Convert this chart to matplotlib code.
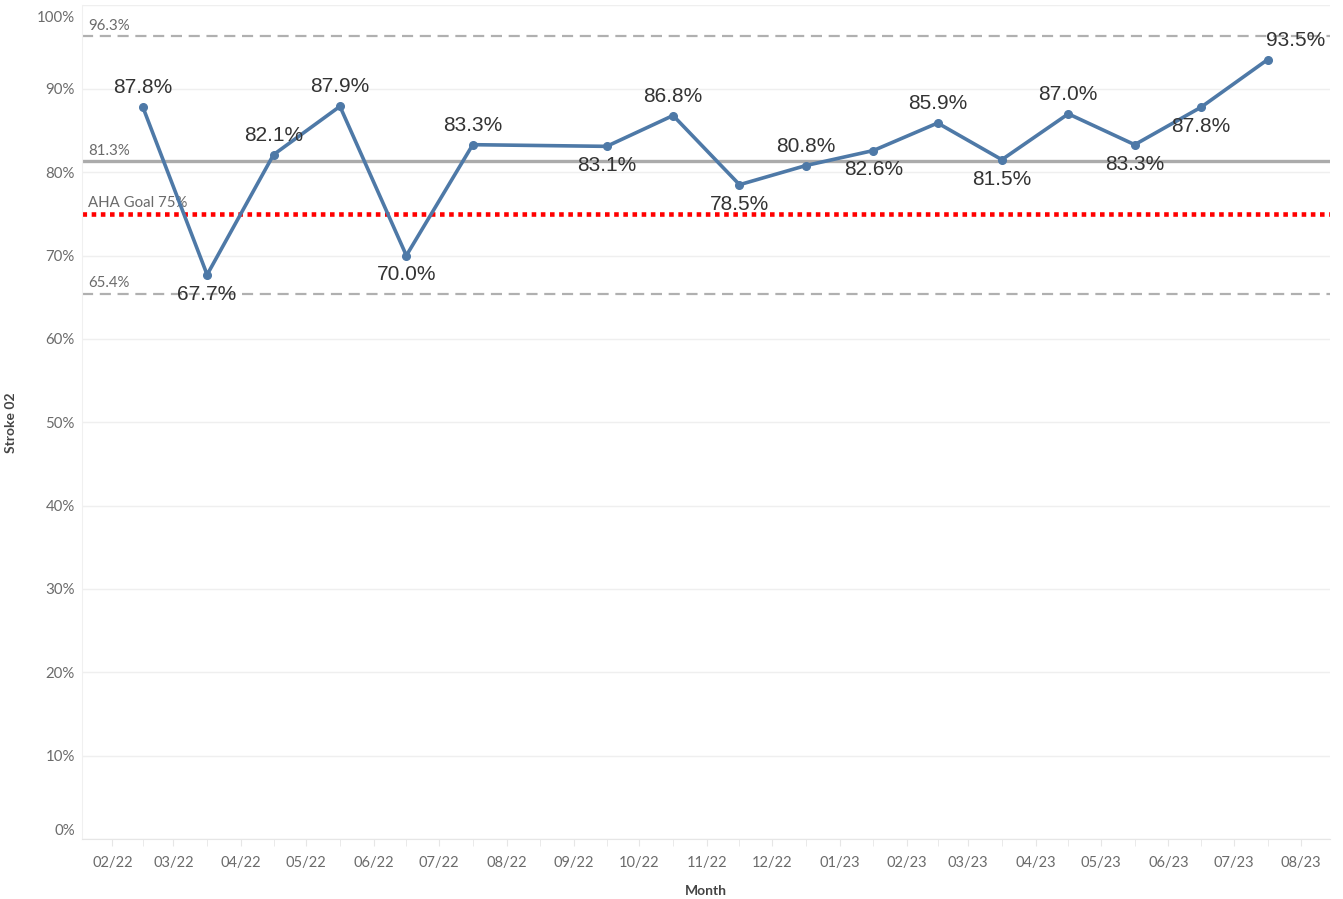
import matplotlib.pyplot as plt
import matplotlib.dates as mdates
import matplotlib.transforms as mtransforms
import pandas as pd

# monthly Stroke 02 rate (Aug 2022 missing)
months = ['2022-02', '2022-03', '2022-04', '2022-05', '2022-06', '2022-07',
          '2022-09', '2022-10', '2022-11', '2022-12', '2023-01', '2023-02',
          '2023-03', '2023-04', '2023-05', '2023-06', '2023-07']
rates = [87.8, 67.7, 82.1, 87.9, 70.0, 83.3,
         83.1, 86.8, 78.5, 80.8, 82.6, 85.9,
         81.5, 87.0, 83.3, 87.8, 93.5]
label_pos = ['up', 'down', 'up', 'up', 'down', 'up',
             'down', 'up', 'down', 'up', 'down', 'up',
             'down', 'up', 'down', 'down', 'up']

upper_limit = 96.3
mean_line = 81.3
lower_limit = 65.4
aha_goal = 75

tick_months = pd.date_range('2022-02-01', '2023-08-01', freq='MS')

blue = '#4e79a7'
grey_text = '#6b6b6b'


def mid_month(m):
    start = pd.Timestamp(m + '-01')
    end = start + pd.offsets.MonthBegin(1)
    return start + (end - start) / 2


x = [mid_month(m) for m in months]

fig = plt.figure(figsize=(13.43, 8.99), dpi=100)
ax = fig.add_axes([0.061, 0.0667, 0.929, 0.9272])

# grid
for v in range(0, 101, 10):
    ax.axhline(v, color='#efefef', lw=1, zorder=0)

# reference lines
ax.axhline(upper_limit, color='#b0b0b0', lw=1.6, ls=(0, (5, 3)), zorder=1)
ax.axhline(lower_limit, color='#b0b0b0', lw=1.6, ls=(0, (5, 3)), zorder=1)
ax.axhline(mean_line, color='#ababab', lw=2.4, zorder=1)
ax.axhline(aha_goal, color='#ff0000', lw=3.3, ls=(0, (1, 1)),
           dash_capstyle='butt', zorder=1)

ref_font = dict(family='Lato', fontsize=10.8, color=grey_text)
yt = ax.get_yaxis_transform()
ax.text(0.005, upper_limit + 0.45, '96.3%', transform=yt, va='bottom', **ref_font)
ax.text(0.005, mean_line + 0.45, '81.3%', transform=yt, va='bottom', **ref_font)
ax.text(0.005, aha_goal + 0.45, 'AHA Goal 75%', transform=yt, va='bottom', **ref_font)
ax.text(0.005, lower_limit + 0.45, '65.4%', transform=yt, va='bottom', **ref_font)

# series
ax.plot(x, rates, color=blue, lw=2.6, marker='o', ms=5.5, zorder=3)

for i, (xi, r, pos) in enumerate(zip(x, rates, label_pos)):
    dy = 14 if pos == 'up' else -14
    dx = 20 if i == len(rates) - 1 else 0
    ax.annotate(f'{r:.1f}%', (xi, r), xytext=(dx, dy), textcoords='offset points',
                ha='center', va='center', fontsize=15, color='#333333',
                family='Liberation Sans', zorder=4)

ax.set_xlim(pd.Timestamp('2022-01-18'), pd.Timestamp('2023-08-14'))
ax.set_ylim(0, 100)

ax.set_yticks(range(0, 101, 10))
ax.set_yticklabels([f'{v}%' for v in range(0, 101, 10)])
ax.tick_params(axis='y', length=0, pad=5, labelsize=10.8, labelcolor=grey_text)

ax.set_xticks(tick_months)
ax.xaxis.set_major_formatter(mdates.DateFormatter('%m/%y'))
ax.set_xticks([mid_month(d.strftime('%Y-%m')) for d in tick_months[:-1]], minor=True)
ax.tick_params(axis='x', which='both', length=5, color='#e6e6e6', pad=7,
               labelsize=10.5, labelcolor=grey_text)
for lab in ax.get_xticklabels() + ax.get_yticklabels():
    lab.set_family('Lato')

# end labels kept inside the axis like Tableau does
ylabs = ax.yaxis.get_majorticklabels()
ylabs[0].set_transform(ylabs[0].get_transform() +
                       mtransforms.ScaledTranslation(0, 10 / 100, fig.dpi_scale_trans))
ylabs[-1].set_transform(ylabs[-1].get_transform() +
                        mtransforms.ScaledTranslation(0, -11 / 100, fig.dpi_scale_trans))

for s in ['top', 'right']:
    ax.spines[s].set_visible(False)
ax.spines['left'].set_color('#f0f0f0')
ax.spines['bottom'].set_color('#e6e6e6')

ax.set_ylabel('Stroke 02', fontsize=10, fontweight='bold', color='#444444', family='Lato', labelpad=14)
ax.set_xlabel('Month', fontsize=10, fontweight='bold', color='#444444', family='Lato', labelpad=11)

fig.savefig('out.png', dpi=100)
